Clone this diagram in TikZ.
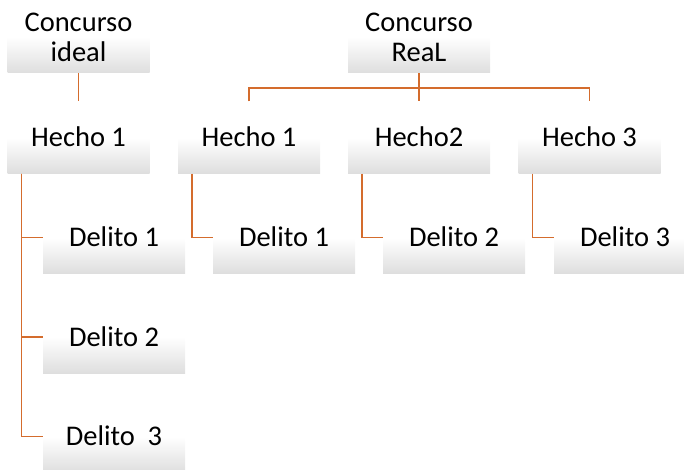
\documentclass[tikz,border=0pt]{standalone}
\usepackage{fontspec}
\setmainfont{Carlito}
\definecolor{linecol}{RGB}{212,108,45}
\definecolor{boxgray}{RGB}{222,222,222}
\pgfdeclareverticalshading{boxshade}{100bp}{color(0bp)=(boxgray); color(25bp)=(boxgray); color(50bp)=(white); color(100bp)=(white)}
\tikzset{
  box/.style={rectangle, inner sep=0pt, minimum width=142pt, minimum height=72pt,
    shading=boxshade,
    font=\fontsize{28.5}{30}\selectfont, text=black, text height=18pt, text depth=0pt},
  twobox/.style={box, text height=50pt},
  conn/.style={draw=linecol, line width=1.6pt}
}
\newcommand{\twolines}[2]{\begin{tabular}[b]{@{}c@{}}#1\\#2\end{tabular}}
\begin{document}
\begin{tikzpicture}[x=1pt,y=-1pt]
\useasboundingbox (0,0) rectangle (684,470);
\clip (0,0) rectangle (684,470);
\node[twobox] (ci) at (78.5,37) {\twolines{Concurso}{ideal}};
\node[twobox] (cr) at (419,37) {\twolines{Concurso}{ReaL}};
\node[box] (h1L) at (78.5,137.5) {Hecho 1};
\node[box] (h1) at (249,137.5) {Hecho 1};
\node[box] (h2) at (419,137.5) {Hecho2};
\node[box] (h3) at (589.5,137.5) {Hecho 3};
\node[box] (d1L) at (114,237.5) {Delito 1};
\node[box] (d2L) at (114,337) {Delito 2};
\node[box] (d3L) at (114,436.5) {Delito\ \ 3};
\node[box] (d1) at (284,237.5) {Delito 1};
\node[box] (d2) at (454,237.5) {Delito 2};
\node[box] (d3) at (625,237.5) {Delito 3};
\coordinate (fork) at (419,88);
\draw[conn] (ci.south) -- (h1L.north);
\draw[conn] (cr.south) -- (fork);
\draw[conn] (h1.north) |- (fork) -| (h3.north);
\draw[conn] (fork) -- (h2.north);
\draw[conn] ([xshift=14pt]h1L.south west) |- (d1L.west);
\draw[conn] ([xshift=14pt]h1L.south west) |- (d2L.west);
\draw[conn] ([xshift=14pt]h1L.south west) |- (d3L.west);
\draw[conn] ([xshift=14pt]h1.south west) |- (d1.west);
\draw[conn] ([xshift=14pt]h2.south west) |- (d2.west);
\draw[conn] ([xshift=14pt]h3.south west) |- (d3.west);
\end{tikzpicture}
\end{document}
